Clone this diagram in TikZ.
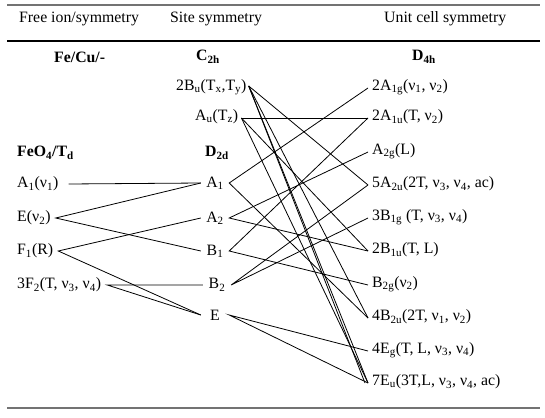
\documentclass[tikz,border=0pt]{standalone}
\usepackage{fontspec}
\setmainfont{Liberation Serif}
\begin{document}
\begin{tikzpicture}[x=1pt,y=-1pt,
  lab/.style={anchor=west,inner sep=0pt,font=\fontsize{15.8}{18}\selectfont},
  hd/.style={anchor=west,inner sep=0pt,font=\fontsize{15.8}{18}\selectfont\bfseries},
  mid/.style={inner sep=0pt,minimum width=28pt,minimum height=12pt,font=\fontsize{15.8}{18}\selectfont},
  cn/.style={line width=0.8pt,black},
  rulegray/.style={line width=2.2pt,black!55}]
\useasboundingbox (0,0) rectangle (545,417);
% rules
\coordinate (r1a) at (7,5); \coordinate (r1b) at (540,5);
\coordinate (r2a) at (7,41); \coordinate (r2b) at (540,41);
\coordinate (r3a) at (7,408); \coordinate (r3b) at (540,408);
\draw[rulegray] (r1a) -- (r1b);
\draw[line width=1.1pt] (r2a) -- (r2b);
\draw[rulegray] (r3a) -- (r3b);
% column headers
\node[lab] (h1) at (19,19) {Free ion/symmetry};
\node[lab] (h2) at (170,19) {Site symmetry};
\node[lab] (h3) at (384,19) {Unit cell symmetry};
\node[hd] (g1) at (54,57) {Fe/Cu/-};
\node[hd] (g2) at (196,57) {C\textsubscript{2h}};
\node[hd] (g3) at (412,57) {D\textsubscript{4h}};
\node[hd] (g4) at (17,153) {FeO\textsubscript{4}/T\textsubscript{d}};
\node[hd] (g5) at (205,153) {D\textsubscript{2d}};
% left column
\node[lab] (fa1) at (17,184) {A\textsubscript{1}(ν\textsubscript{1})};
\node[lab] (fe) at (17,218) {E(ν\textsubscript{2})};
\node[lab] (ff1) at (17,251) {F\textsubscript{1}(R)};
\node[lab] (ff2) at (17,285) {3F\textsubscript{2}(T, ν\textsubscript{3}, ν\textsubscript{4})};
% site C2h
\node[lab] (bu) at (176,87) {2B\textsubscript{u}(T\textsubscript{x},T\textsubscript{y})};
\node[lab] (au) at (195,117) {A\textsubscript{u}(T\textsubscript{z})};
% site D2d
\node[mid] (sa1) at (215,183) {A\textsubscript{1}};
\node[mid] (sa2) at (215,218) {A\textsubscript{2}};
\node[mid] (sb1) at (215,251) {B\textsubscript{1}};
\node[mid] (sb2) at (217,285) {B\textsubscript{2}};
\node[mid] (se) at (215,315) {E};
% unit cell D4h
\node[lab] (ua1g) at (372,87) {2A\textsubscript{1g}(ν\textsubscript{1}, ν\textsubscript{2})};
\node[lab] (ua1u) at (372,117) {2A\textsubscript{1u}(T, ν\textsubscript{2})};
\node[lab] (ua2g) at (372,151) {A\textsubscript{2g}(L)};
\node[lab] (ua2u) at (372,184) {5A\textsubscript{2u}(2T, ν\textsubscript{3}, ν\textsubscript{4}, ac)};
\node[lab] (ub1g) at (372,217) {3B\textsubscript{1g} (T, ν\textsubscript{3}, ν\textsubscript{4})};
\node[lab] (ub1u) at (372,250) {2B\textsubscript{1u}(T, L)};
\node[lab] (ub2g) at (372,284) {B\textsubscript{2g}(ν\textsubscript{2})};
\node[lab] (ub2u) at (372,317) {4B\textsubscript{2u}(2T, ν\textsubscript{1}, ν\textsubscript{2})};
\node[lab] (ueg) at (372,350) {4E\textsubscript{g}(T, L, ν\textsubscript{3}, ν\textsubscript{4})};
\node[lab] (ueu) at (372,382) {7E\textsubscript{u}(3T,L, ν\textsubscript{3}, ν\textsubscript{4}, ac)};
% anchor coordinates
\coordinate (pa1) at ([xshift=10pt]fa1.east);
\coordinate (pe) at ([xshift=5pt]fe.east);
\coordinate (pf1) at ([xshift=5pt]ff1.east);
\coordinate (pf2) at ([xshift=6pt]ff2.east);
\coordinate (pbu) at ([xshift=2pt,yshift=1pt]bu.east);
\coordinate (pau) at ([xshift=3pt,yshift=-1pt]au.east);
\foreach \n in {ua1g,ua1u,ua2g,ua2u,ub1g,ub1u,ub2g,ub2u,ueg,ueu}
  \coordinate (q\n) at ([xshift=-4pt,yshift=-1pt]\n.west);
% free ion -> D2d
\draw[cn] (pa1) -- (sa1.west);
\draw[cn] (sa1.west) -- (pe) -- (sb1.west);
\draw[cn] (sa2.west) -- (pf1) -- (se.west);
\draw[cn] (sb2.west) -- (pf2) -- (se.west);
% D2d -> D4h
\draw[cn] (qua1g) -- (sa1.east) -- (qub2u);
\draw[cn] (qua2g) -- (sa2.east) -- (qub1u);
\draw[cn] (qua1u) -- (sb1.east) -- (qub2g);
\draw[cn] (qub1g) -- (sb2.east) -- (qua2u);
\draw[cn] (queg) -- (se.east) -- (queu);
% C2h -> D4h
\draw[cn] (pau) -- (qua1u);
\draw[cn] (pau) -- (qub1u);
\draw[cn] (pau) -- (queu);
\draw[cn] (pbu) -- (qua2u);
\draw[cn] (pbu) -- (qub2u);
\draw[cn] (pbu) -- (queu);
\draw[cn] (pbu) -- ([xshift=-3pt]queu);
\end{tikzpicture}
\end{document}
